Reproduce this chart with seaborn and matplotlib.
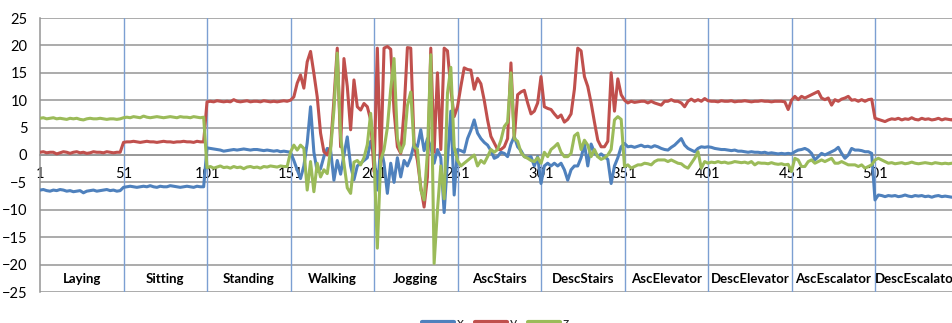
import numpy as np
import pandas as pd
import matplotlib.pyplot as plt
import seaborn as sns

# activity segments (50 samples each) and where they start
activities = ['Laying', 'Sitting', 'Standing', 'Walking', 'Jogging', 'AscStairs',
              'DescStairs', 'AscElevator', 'DescElevator', 'AscEscalator', 'DescEscalator']
seg_starts = [1, 51, 101, 151, 201, 251, 301, 351, 401, 451, 501]
tick_labels = ['1', '51', '101', '151', '201', '251', '301', '351', '401', '451', '501']

# accelerometer readings, read every 2nd sample, one row per activity
acc_x = [
    -6.4, -6.3, -6.5, -6.6, -6.4, -6.5, -6.3, -6.4, -6.6, -6.5, -6.7, -6.6, -6.5, -6.9, -6.6, -6.5, -6.4, -6.6, -6.5, -6.4, -6.3, -6.5, -6.4, -6.6, -6.5,
    -5.9, -5.8, -5.7, -5.8, -5.9, -5.8, -5.7, -5.8, -5.6, -5.8, -5.9, -5.7, -5.8, -5.8, -5.6, -5.7, -5.8, -5.9, -5.8, -5.7, -5.8, -5.9, -5.7, -5.8, -5.8,
    1.3, 1.2, 1.1, 1.0, 0.9, 0.7, 0.8, 0.9, 1.0, 0.9, 1.0, 1.1, 1.0, 0.9, 1.0, 1.0, 0.9, 0.8, 0.9, 0.8, 0.7, 0.8, 0.6, 0.7, 0.6,
    0.5, -1.0, -2.7, -4.3, -2.0, 2.2, 8.8, 0.5, -3.0, -2.5, -0.3, 1.2, 0.9, -4.6, -1.0, -3.5, 0.0, 3.3, -2.0, -4.5, -2.0, -1.5, -1.0, -0.5, 2.5,
    0.0, -6.4, 1.5, -1.5, -7.0, -1.5, -5.0, -0.5, -4.0, -1.0, -2.0, -0.5, 2.0, 1.5, 4.6, 0.8, 3.0, 1.5, -1.5, 1.0, -0.5, -10.5, -1.0, 8.0, -7.3,
    1.0, 0.8, 0.5, 3.0, 4.5, 6.4, 4.0, 3.0, 2.3, 1.8, 0.8, -0.6, -0.3, 0.5, 0.3, -0.3, 2.0, 3.4, 1.5, 0.8, -0.3, -0.5, -0.3, -2.0, -0.3,
    -5.2, -2.0, -1.5, -2.0, -1.5, -2.0, -1.5, -2.7, -4.6, -2.7, -2.0, -2.0, -0.5, 2.0, -2.0, 2.0, 0.5, -0.3, 0.2, -0.3, -0.8, -5.2, -2.0, -0.5, 1.5,
    2.1, 1.5, 1.6, 1.4, 1.6, 1.8, 1.5, 1.6, 1.4, 1.7, 1.5, 1.2, 1.0, 0.9, 1.4, 1.8, 2.4, 3.0, 1.8, 1.2, 0.9, 0.6, 1.2, 1.5, 1.4,
    1.5, 1.4, 1.2, 1.1, 1.0, 1.0, 0.9, 0.8, 0.9, 0.7, 0.7, 0.6, 0.5, 0.6, 0.5, 0.5, 0.4, 0.5, 0.3, 0.4, 0.3, 0.2, 0.3, 0.2, 0.3,
    0.2, 0.6, 0.9, 1.0, 1.2, 0.9, 0.3, -0.9, -0.3, 0.3, 0.0, 0.3, 0.6, 0.9, 1.4, 0.3, -0.6, 0.0, 1.2, 0.9, 0.9, 0.8, 0.6, 0.6, 0.3,
    -8.2, -7.3, -7.4, -7.6, -7.4, -7.5, -7.4, -7.6, -7.5, -7.3, -7.5, -7.6, -7.4, -7.5, -7.4, -7.6, -7.5, -7.7, -7.5, -7.4, -7.6, -7.5, -7.6, -7.7, -7.6,
]
acc_y = [
    0.5, 0.6, 0.4, 0.5, 0.5, 0.2, 0.4, 0.6, 0.5, 0.3, 0.5, 0.6, 0.4, 0.5, 0.3, 0.4, 0.6, 0.5, 0.5, 0.4, 0.6, 0.5, 0.4, 0.5, 0.5,
    2.3, 2.4, 2.4, 2.5, 2.4, 2.3, 2.4, 2.5, 2.4, 2.4, 2.3, 2.4, 2.5, 2.4, 2.4, 2.3, 2.4, 2.4, 2.5, 2.4, 2.4, 2.3, 2.5, 2.4, 2.4,
    9.7, 9.8, 9.7, 9.9, 9.8, 9.7, 9.8, 9.7, 10.1, 9.8, 9.7, 9.8, 9.9, 9.7, 9.8, 9.8, 9.7, 9.9, 9.8, 9.7, 9.8, 9.7, 9.8, 9.9, 9.8,
    10.0, 10.6, 13.1, 14.6, 12.2, 17.0, 18.9, 14.9, 10.6, 4.0, 0.6, 0.0, 1.5, 10.0, 19.5, 1.5, 17.6, 12.5, 4.6, 13.7, 8.8, 8.2, 9.4, 8.8, 6.4,
    -3.0, 19.5, -2.0, 19.5, 19.8, 19.3, 8.0, 1.5, 0.3, 8.0, 19.6, 19.5, 2.0, -1.0, -5.8, -9.5, -4.0, 19.5, 0.5, 15.0, 1.0, 19.5, 19.0, 12.0, 7.0,
    8.8, 12.5, 15.9, 15.6, 15.5, 12.0, 14.0, 13.0, 10.0, 6.4, 3.4, 2.2, 1.0, 1.0, 1.5, 3.0, 16.8, 3.0, 11.0, 11.5, 11.8, 9.5, 7.5, 8.0, 9.5,
    14.3, 8.8, 8.5, 8.3, 7.5, 6.8, 7.3, 6.0, 6.5, 7.5, 12.0, 19.5, 19.0, 14.3, 12.5, 9.5, 6.0, 2.7, 1.5, 1.5, 2.5, 15.0, 8.0, 13.9, 11.0,
    10.0, 9.5, 9.8, 9.6, 9.7, 9.8, 9.8, 9.5, 9.8, 9.5, 9.3, 9.1, 9.8, 9.8, 10.1, 9.8, 9.8, 9.5, 8.8, 9.8, 10.2, 9.8, 10.1, 9.8, 10.3,
    9.9, 9.8, 9.8, 9.7, 9.9, 9.8, 9.8, 9.9, 9.7, 9.8, 9.8, 9.9, 9.8, 9.7, 9.8, 9.8, 9.9, 9.8, 9.8, 9.7, 9.8, 9.8, 9.8, 9.7, 8.3,
    10.0, 10.7, 10.1, 10.7, 10.4, 10.7, 11.0, 11.3, 11.6, 10.4, 10.1, 10.4, 9.1, 10.1, 9.8, 10.2, 10.4, 10.7, 10.0, 10.1, 9.8, 10.1, 9.8, 10.1, 10.2,
    6.7, 6.5, 6.3, 6.1, 6.4, 6.6, 6.5, 6.7, 6.4, 6.6, 6.5, 6.8, 6.5, 6.4, 6.7, 6.5, 6.6, 6.4, 6.5, 6.7, 6.4, 6.6, 6.5, 6.4, 6.8,
]
acc_z = [
    6.7, 6.8, 6.6, 6.7, 6.8, 6.6, 6.7, 6.6, 6.5, 6.7, 6.6, 6.7, 6.5, 6.4, 6.6, 6.7, 6.6, 6.6, 6.7, 6.6, 6.5, 6.6, 6.6, 6.5, 6.6,
    6.8, 6.9, 6.8, 7.0, 6.9, 6.8, 7.1, 6.9, 6.8, 6.9, 7.0, 6.9, 6.8, 6.9, 7.0, 6.9, 6.8, 7.0, 6.9, 6.9, 6.8, 7.0, 6.9, 6.8, 6.9,
    -2.3, -2.1, -2.4, -2.2, -2.0, -2.3, -2.2, -2.4, -2.1, -2.3, -2.2, -2.5, -2.2, -2.1, -2.3, -2.2, -2.4, -2.1, -2.2, -2.0, -2.1, -2.2, -2.0, -2.1, -2.1,
    0.5, 1.8, 0.9, 1.8, 1.2, -6.4, -1.2, -6.7, -1.5, -4.0, -2.7, -3.4, 0.9, 8.2, 18.6, 3.4, -1.5, -6.0, -7.0, -1.3, -1.0, -1.8, -0.5, 1.9, 7.6,
    0.0, -17.0, -1.0, 1.0, 5.0, 12.0, 17.6, 3.0, 0.5, 2.0, 9.0, 11.5, 1.5, 1.0, -6.4, -8.2, 0.5, 18.3, -19.8, -10.0, -2.0, -8.0, 11.3, 16.0, 1.5,
    -1.0, -2.0, -1.5, -1.0, -0.5, 0.0, -2.0, -1.0, -1.5, -0.3, 1.0, 0.5, 1.0, 2.7, 5.2, 6.0, 15.0, 3.0, 2.5, 0.5, -0.3, -0.6, -1.0, -1.2, -0.5,
    -1.5, 0.5, -0.3, 1.0, 1.5, 2.1, 0.5, -0.3, -0.3, 0.3, 3.5, 4.0, 1.0, 2.7, 1.8, -0.3, 1.0, -0.3, -0.8, -0.5, 0.0, 1.0, 6.4, 7.0, 6.5,
    -2.1, -1.8, -2.4, -2.1, -1.8, -1.8, -1.5, -1.6, -1.8, -1.2, -0.9, -0.9, -0.9, -1.2, -0.9, -1.2, -1.5, -1.6, -2.1, -2.4, -1.5, -0.6, 0.6, -2.4, -1.2,
    -1.5, -1.3, -1.4, -1.2, -1.4, -1.3, -1.5, -1.4, -1.2, -1.3, -1.4, -1.3, -1.5, -1.2, -1.8, -1.4, -1.5, -1.5, -1.6, -1.4, -1.6, -1.7, -1.6, -1.8, -1.7,
    -3.0, -0.6, -0.9, -2.1, -2.1, -1.2, -0.9, -1.5, -1.2, -0.9, -1.2, -0.9, -0.6, -1.5, -1.5, -1.2, -1.5, -1.8, -1.8, -1.8, -2.1, -1.8, -2.4, -2.1, -1.8,
    -0.9, -0.6, -0.9, -1.2, -1.5, -1.4, -1.6, -1.5, -1.4, -1.6, -1.5, -1.3, -1.5, -1.6, -1.5, -1.4, -1.5, -1.6, -1.4, -1.5, -1.6, -1.5, -1.6, -1.5, -1.6,
]

n = len(acc_x)
samples = np.arange(1, 2 * n, 2)
df = pd.DataFrame({
    'sample': np.tile(samples, 3),
    'value': acc_x + acc_y + acc_z,
    'axis': ['x'] * n + ['y'] * n + ['z'] * n,
})

sns.set_style('white')
plt.rcParams['font.family'] = ['Lato', 'DejaVu Sans']

fig = plt.figure(figsize=(9.53, 3.23), dpi=100)
ax = fig.add_axes([40 / 953, 31 / 323, 913 / 953, 274 / 323])

palette = {'x': '#4f81bd', 'y': '#c0504d', 'z': '#9bbb59'}
sns.lineplot(data=df, x='sample', y='value', hue='axis', palette=palette,
             linewidth=2.2, estimator=None, sort=False, ax=ax, zorder=3)

# gray horizontal grid, blue activity dividers
grid_col = '#949494'
ax.set_yticks(range(-25, 26, 5))
ax.yaxis.grid(True, color=grid_col, linewidth=1.1)
ax.xaxis.grid(False)
for s in seg_starts[1:]:
    ax.axvline(s, color='#7c9fd2', linewidth=1.0, zorder=1.5)

for side in ['top', 'right']:
    ax.spines[side].set_visible(False)
ax.spines['left'].set_color(grid_col)
ax.spines['left'].set_linewidth(1.1)
ax.spines['bottom'].set_position(('data', 0))
ax.spines['bottom'].set_color(grid_col)
ax.spines['bottom'].set_linewidth(1.1)

ax.set_xticks(seg_starts)
ax.set_xticklabels(tick_labels)
ax.tick_params(axis='x', length=0, pad=9, labelsize=10.5, colors='black')
ax.tick_params(axis='y', length=0, pad=9, labelsize=10.5, colors='black')
ax.set_xlim(1, 547.7)
ax.set_ylim(-25, 25)
ax.set_xlabel('')
ax.set_ylabel('')

for name, s in zip(activities, seg_starts):
    ax.text(s + 25, -22.6, name, ha='center', va='center',
            fontsize=9.5, fontweight='bold', color='black')

handles, labels = ax.get_legend_handles_labels()
ax.get_legend().remove()
for h in handles:
    h.set_linewidth(3)
fig.legend(handles, labels, loc='center', bbox_to_anchor=(0.52, 0.0),
           ncol=3, frameon=False, fontsize=10, handlelength=2.3,
           handletextpad=0.2, columnspacing=0.8)

plt.savefig('out.png', dpi=100)
plt.close()
